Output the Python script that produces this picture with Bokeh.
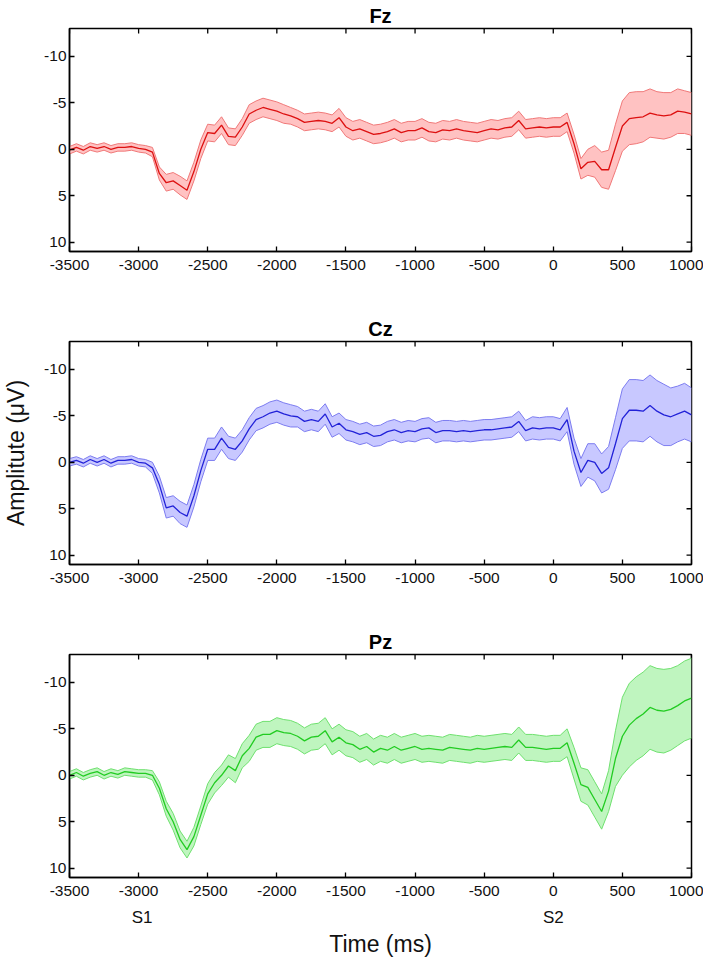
from bokeh.plotting import figure
from bokeh.layouts import column
from bokeh.models import Range1d, FixedTicker, LinearAxis
from bokeh.embed import file_html
from bokeh.resources import INLINE

# ---------------- data ----------------
time_ms = list(range(-3500, 1001, 50))

x_ticks = [-3500, -3000, -2500, -2000, -1500, -1000, -500, 0, 500, 1000]
y_ticks = [-10, -5, 0, 5, 10]
stim_ticks = [-2975, 0]
stim_labels = ["S1", "S2"]
channels = ["Fz", "Cz", "Pz"]

fz_mean = [0.1, -0.2, 0.1, -0.3, -0.1, -0.3, 0.0, -0.2, -0.2, -0.3,
           -0.1, 0.0, 0.3, 2.6, 3.6, 3.4, 3.9, 4.4, 2.4, 0.0,
           -1.8, -1.7, -2.6, -1.4, -1.3, -2.4, -3.8, -4.2, -4.5, -4.3,
           -4.1, -3.8, -3.6, -3.3, -2.9, -3.0, -3.1, -3.0, -2.8, -3.4,
           -2.4, -2.0, -2.2, -1.9, -1.6, -1.7, -1.9, -2.2, -1.8, -2.0,
           -2.0, -2.3, -1.9, -1.8, -2.1, -2.0, -2.2, -2.0, -1.9, -1.8,
           -2.0, -2.2, -2.1, -2.3, -2.4, -3.1, -2.2, -2.3, -2.4, -2.3,
           -2.4, -2.4, -2.9, -0.6, 2.1, 1.4, 1.3, 2.2, 2.2, -0.2,
           -2.5, -3.3, -3.4, -3.5, -3.9, -3.7, -3.6, -3.7, -4.1, -4.0,
           -3.8]
fz_err = [0.4, 0.4, 0.4, 0.4, 0.4, 0.4, 0.4, 0.4, 0.4, 0.4,
          0.4, 0.4, 0.5, 0.7, 0.9, 0.9, 1.0, 1.0, 1.0, 1.0,
          0.9, 0.9, 0.9, 0.9, 0.9, 0.9, 1.0, 1.0, 1.0, 1.0,
          1.0, 1.0, 0.9, 0.9, 0.9, 0.9, 0.9, 0.9, 0.9, 1.0,
          1.0, 1.0, 1.0, 1.0, 1.0, 1.0, 1.0, 1.0, 1.0, 1.0,
          1.0, 1.0, 1.0, 1.0, 1.0, 1.0, 1.0, 1.0, 1.0, 1.0,
          1.0, 1.0, 1.0, 1.0, 1.0, 1.0, 1.0, 1.0, 1.0, 1.0,
          1.0, 1.0, 1.0, 1.0, 1.1, 1.4, 1.7, 1.9, 2.1, 2.5,
          2.7, 2.8, 2.8, 2.7, 2.6, 2.5, 2.5, 2.4, 2.4, 2.3,
          2.3]

cz_mean = [0.0, -0.2, 0.1, -0.3, 0.0, -0.3, 0.1, -0.2, -0.2, -0.3,
           0.0, 0.1, 0.6, 2.4, 4.9, 4.7, 5.4, 5.8, 3.6, 0.9,
           -1.4, -1.4, -2.6, -1.6, -1.4, -2.3, -3.6, -4.6, -4.9, -5.3,
           -5.5, -5.2, -5.0, -4.9, -4.4, -4.6, -4.4, -5.2, -3.8, -4.2,
           -3.5, -3.3, -3.0, -3.2, -2.8, -2.9, -3.3, -3.5, -3.2, -3.4,
           -3.3, -3.6, -3.7, -3.2, -3.4, -3.4, -3.3, -3.4, -3.3, -3.4,
           -3.5, -3.5, -3.6, -3.7, -3.8, -4.4, -3.4, -3.7, -3.6, -3.7,
           -3.7, -3.5, -4.6, -1.2, 1.1, -0.2, 0.0, 1.2, 0.6, -2.0,
           -4.7, -5.6, -5.6, -5.5, -6.1, -5.5, -5.1, -4.9, -5.2, -5.5,
           -5.1]
cz_err = [0.4, 0.4, 0.4, 0.4, 0.4, 0.4, 0.4, 0.4, 0.4, 0.4,
          0.4, 0.4, 0.6, 0.9, 1.1, 1.1, 1.2, 1.2, 1.2, 1.2,
          1.2, 1.2, 1.2, 1.2, 1.2, 1.2, 1.2, 1.2, 1.2, 1.2,
          1.2, 1.2, 1.2, 1.1, 1.1, 1.1, 1.1, 1.1, 1.1, 1.1,
          1.1, 1.1, 1.1, 1.1, 1.1, 1.1, 1.1, 1.1, 1.1, 1.1,
          1.1, 1.1, 1.1, 1.1, 1.1, 1.1, 1.1, 1.1, 1.1, 1.1,
          1.1, 1.1, 1.1, 1.1, 1.1, 1.1, 1.1, 1.2, 1.2, 1.2,
          1.2, 1.2, 1.3, 1.4, 1.5, 1.8, 2.0, 2.1, 2.3, 2.8,
          3.2, 3.3, 3.3, 3.3, 3.3, 3.3, 3.3, 3.1, 3.0, 3.0,
          2.9]

pz_mean = [0.0, -0.3, 0.1, -0.2, -0.4, 0.0, -0.3, -0.1, -0.4, -0.3,
           -0.2, -0.2, 0.0, 1.4, 3.6, 5.0, 6.9, 8.0, 6.6, 4.3,
           2.0, 0.8, 0.0, -1.0, -0.5, -2.1, -2.9, -4.1, -4.4, -4.4,
           -4.8, -4.6, -4.5, -4.2, -3.7, -4.1, -4.2, -4.8, -3.6, -4.1,
           -3.5, -3.3, -2.8, -3.1, -2.5, -2.9, -2.7, -3.1, -2.7, -2.9,
           -3.1, -2.8, -2.9, -2.8, -2.7, -3.0, -2.9, -2.8, -2.7, -2.9,
           -2.8, -2.9, -3.0, -3.1, -3.0, -3.8, -3.0, -3.0, -2.9, -2.8,
           -2.9, -2.9, -3.5, -1.3, 1.0, 1.3, 2.6, 3.9, 1.7, -1.8,
           -4.2, -5.4, -6.1, -6.6, -7.3, -7.0, -6.9, -7.1, -7.5, -8.0,
           -8.3]
pz_err = [0.4, 0.4, 0.4, 0.4, 0.4, 0.4, 0.4, 0.4, 0.4, 0.4,
          0.4, 0.4, 0.5, 0.7, 0.8, 0.9, 0.9, 0.9, 1.0, 1.0,
          1.1, 1.1, 1.1, 1.2, 1.3, 1.3, 1.4, 1.4, 1.4, 1.4,
          1.4, 1.4, 1.4, 1.4, 1.4, 1.4, 1.4, 1.4, 1.4, 1.4,
          1.4, 1.4, 1.4, 1.4, 1.4, 1.4, 1.4, 1.4, 1.4, 1.4,
          1.4, 1.4, 1.4, 1.4, 1.4, 1.4, 1.4, 1.4, 1.4, 1.4,
          1.4, 1.4, 1.4, 1.4, 1.4, 1.4, 1.4, 1.4, 1.4, 1.4,
          1.4, 1.4, 1.5, 1.7, 1.8, 1.9, 1.9, 1.9, 2.2, 3.0,
          4.2, 4.5, 4.5, 4.5, 4.5, 4.5, 4.5, 4.4, 4.3, 4.3,
          4.3]

means = [fz_mean, cz_mean, pz_mean]
errs = [fz_err, cz_err, pz_err]
line_colors = ["#dd1010", "#2222d8", "#22cc22"]
fill_colors = ["#ffc2c2", "#c8c8ff", "#bff5bf"]
edge_colors = ["#f07878", "#7c7cf0", "#6ee06e"]

FONT = "Liberation Sans"
TICK_SIZE = "15.5px"
LEFT, RIGHT, TOP = 65, 12, 28
FRAME_W, FRAME_H = 626, 223
X0, X1 = -3500, 1000
Y_BOTTOM, Y_TOP = 11, -13
TICK_PX = 5


def style_axis(ax):
    ax.axis_line_color = "black"
    ax.axis_line_width = 1.5
    ax.major_tick_in = TICK_PX
    ax.major_tick_out = 0
    ax.major_tick_line_color = "black"
    ax.major_tick_line_width = 1.3
    ax.minor_tick_line_color = None
    ax.major_label_text_font = FONT
    ax.major_label_text_color = "#111111"
    ax.major_label_standoff = 3
    ax.major_label_text_font_size = TICK_SIZE


def make_panel(idx):
    last = idx == 2
    bottom = 82 if last else 62
    p = figure(width=LEFT + FRAME_W + RIGHT, height=TOP + FRAME_H + bottom,
               x_range=Range1d(X0, X1), y_range=Range1d(Y_BOTTOM, Y_TOP),
               output_backend="svg", toolbar_location=None,
               min_border_left=LEFT, min_border_right=RIGHT,
               min_border_top=TOP, min_border_bottom=bottom,
               title=channels[idx])
    p.title.align = "center"
    p.title.text_font = FONT
    p.title.text_font_style = "bold"
    p.title.text_font_size = "20px"
    p.title.text_color = "black"
    p.title.standoff = 4
    p.xgrid.visible = False
    p.ygrid.visible = False
    p.outline_line_color = "black"
    p.outline_line_width = 1.5
    p.background_fill_color = "white"
    p.border_fill_color = "white"

    p.xaxis.ticker = FixedTicker(ticks=x_ticks)
    p.yaxis.ticker = FixedTicker(ticks=y_ticks)
    p.xaxis.major_label_overrides = {t: str(t) for t in x_ticks}
    p.yaxis.major_label_overrides = {t: str(t) for t in y_ticks}
    style_axis(p.xaxis[0])
    style_axis(p.yaxis[0])
    p.xaxis[0].major_label_standoff = 8

    # inward ticks on the top and right edges of the box (no labels there)
    dy = TICK_PX * (Y_BOTTOM - Y_TOP) / FRAME_H
    dx = TICK_PX * (X1 - X0) / FRAME_W
    p.segment(x0=x_ticks, y0=[Y_TOP] * len(x_ticks), x1=x_ticks,
              y1=[Y_TOP + dy] * len(x_ticks), line_color="black", line_width=1.3)
    p.segment(x0=[X1] * len(y_ticks), y0=y_ticks, x1=[X1 - dx] * len(y_ticks),
              y1=y_ticks, line_color="black", line_width=1.3)

    if idx == 1:
        p.yaxis[0].axis_label = "Amplitute (μV)"
        p.yaxis[0].axis_label_text_font = FONT
        p.yaxis[0].axis_label_text_font_style = "normal"
        p.yaxis[0].axis_label_text_font_size = "23px"
        p.yaxis[0].axis_label_text_color = "#111111"
        p.yaxis[0].axis_label_standoff = 12

    if last:
        stim = LinearAxis(ticker=FixedTicker(ticks=stim_ticks),
                          major_label_overrides=dict(zip(stim_ticks, stim_labels)))
        style_axis(stim)
        stim.axis_line_color = None
        stim.major_tick_line_color = None
        stim.major_label_text_font_size = "17px"
        stim.major_label_standoff = 9
        stim.axis_label = "Time (ms)"
        stim.axis_label_text_font = FONT
        stim.axis_label_text_font_style = "normal"
        stim.axis_label_text_font_size = "23px"
        stim.axis_label_text_color = "#111111"
        stim.axis_label_standoff = 1
        p.add_layout(stim, "below")

    m = means[idx]
    e = errs[idx]
    upper = [a - b for a, b in zip(m, e)]
    lower = [a + b for a, b in zip(m, e)]
    p.varea(x=time_ms, y1=upper, y2=lower, fill_color=fill_colors[idx], fill_alpha=1.0)
    p.line(time_ms, upper, line_color=edge_colors[idx], line_width=1)
    p.line(time_ms, lower, line_color=edge_colors[idx], line_width=1)
    p.line(time_ms, m, line_color=line_colors[idx], line_width=1.3)
    return p


panels = [make_panel(i) for i in range(3)]
layout = column(*panels, spacing=0)

open("out.html", "w").write(file_html(layout, INLINE, title="ERP"))
